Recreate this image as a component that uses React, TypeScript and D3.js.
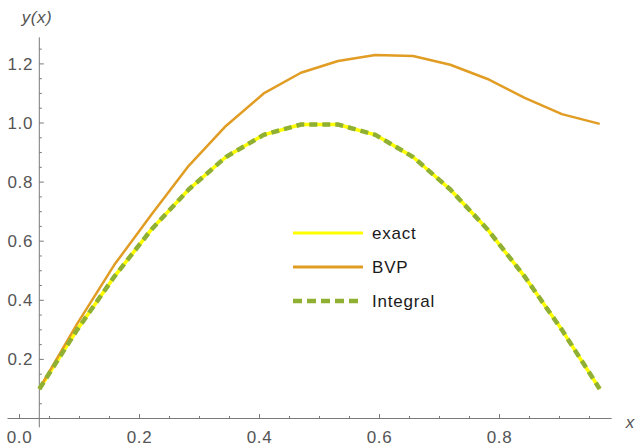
import * as d3 from "d3";

// sample points (x) shared by all three curves
const xs = [
  0.033, 0.096, 0.158, 0.22, 0.282, 0.344, 0.407, 0.469, 0.531, 0.593, 0.656,
  0.718, 0.78, 0.842, 0.904, 0.967,
];
const exactY = [
  0.1, 0.3, 0.48, 0.64, 0.775, 0.885, 0.96, 0.995, 0.995, 0.96, 0.885, 0.775,
  0.64, 0.48, 0.3, 0.1,
];
const bvpY = [
  0.1, 0.32, 0.52, 0.69, 0.855, 0.99, 1.1, 1.17, 1.21, 1.23, 1.227, 1.197,
  1.149, 1.085, 1.03, 0.997,
];
const integralY = [
  0.1, 0.3, 0.48, 0.64, 0.775, 0.885, 0.96, 0.995, 0.995, 0.96, 0.885, 0.775,
  0.64, 0.48, 0.3, 0.1,
];

const seriesNames = ["exact", "BVP", "Integral"];
const xTicks = [0, 0.2, 0.4, 0.6, 0.8];
const xTickLabels = ["0.0", "0.2", "0.4", "0.6", "0.8"];
const yTicks = [0.2, 0.4, 0.6, 0.8, 1.0, 1.2];
const yTickLabels = ["0.2", "0.4", "0.6", "0.8", "1.0", "1.2"];

const W = 637;
const H = 448;
const AXIS = "#7a7a7a";
const LABEL = "#555555";
const FONT = "'Liberation Sans', Arial, sans-serif";

export default function App() {
  const x = d3.scaleLinear().domain([0, 1]).range([19.5, 619.5]);
  const y = d3.scaleLinear().domain([0, 1]).range([418.5, 123]);

  const line = d3
    .line<number>()
    .x((_, i) => x(xs[i]))
    .y((d) => y(d));

  // minor ticks every 0.05
  const xMinor = d3.range(0, 0.97, 0.05).filter((v) => Math.abs((v * 20) % 4) > 0.01);
  const yMinor = d3.range(0.05, 1.29, 0.05).filter((v) => Math.round(v * 20) % 4 !== 0);

  const yAxisX = x(xs[0]);
  const xAxisY = y(0);

  const legend = [
    { name: seriesNames[0], color: "#ffff00", width: 3, dash: undefined },
    { name: seriesNames[1], color: "#e19c24", width: 3, dash: undefined },
    { name: seriesNames[2], color: "#8fb032", width: 4.5, dash: "9 5" },
  ];

  return (
    <svg
      width={W}
      height={H}
      style={{ position: "absolute", left: 0, top: 0, background: "#fff" }}
      fontFamily={FONT}
    >
      {/* axes */}
      <line x1={x(-0.02)} x2={x(0.987)} y1={xAxisY} y2={xAxisY} stroke={AXIS} strokeWidth={1} />
      <line x1={yAxisX} x2={yAxisX} y1={y(1.29)} y2={y(-0.03)} stroke={AXIS} strokeWidth={1} />

      {xTicks.map((t, i) => (
        <g key={"xt" + i}>
          <line x1={x(t)} x2={x(t)} y1={xAxisY} y2={xAxisY - 4.5} stroke={AXIS} />
          <text
            x={x(t)}
            y={443}
            textAnchor="middle"
            fontSize={17}
            fill={LABEL}
            letterSpacing={0.6}
          >
            {xTickLabels[i]}
          </text>
        </g>
      ))}
      {xMinor.map((t, i) => (
        <line key={"xm" + i} x1={x(t)} x2={x(t)} y1={xAxisY} y2={xAxisY - 2.5} stroke={AXIS} />
      ))}

      {yTicks.map((t, i) => (
        <g key={"yt" + i}>
          <line x1={yAxisX} x2={yAxisX + 4.5} y1={y(t)} y2={y(t)} stroke={AXIS} />
          <text
            x={33}
            y={y(t) + 6}
            textAnchor="end"
            fontSize={17}
            fill={LABEL}
            letterSpacing={0.6}
          >
            {yTickLabels[i]}
          </text>
        </g>
      ))}
      {yMinor.map((t, i) => (
        <line key={"ym" + i} x1={yAxisX} x2={yAxisX + 2.5} y1={y(t)} y2={y(t)} stroke={AXIS} />
      ))}

      <text x={37} y={23} textAnchor="middle" fontSize={17} fill={LABEL} fontStyle="italic" letterSpacing={0.6}>
        y(x)
      </text>
      <text x={630} y={428} textAnchor="middle" fontSize={17} fill={LABEL} fontStyle="italic">
        x
      </text>

      {/* curves */}
      <path d={line(exactY) ?? ""} fill="none" stroke="#ffff00" strokeWidth={3.5} strokeLinejoin="round" />
      <path d={line(bvpY) ?? ""} fill="none" stroke="#e19c24" strokeWidth={2.5} strokeLinejoin="round" />
      <path
        d={line(integralY) ?? ""}
        fill="none"
        stroke="#8fb032"
        strokeWidth={4.5}
        strokeDasharray="8 5"
      />

      {/* legend */}
      {legend.map((s, i) => {
        const ly = 233 + i * 34;
        return (
          <g key={s.name}>
            <line
              x1={293}
              x2={363}
              y1={ly}
              y2={ly}
              stroke={s.color}
              strokeWidth={s.width}
              strokeDasharray={s.dash}
            />
            <text x={372} y={ly + 6} fontSize={17} fill="#1a1a1a" letterSpacing={0.8}>
              {s.name}
            </text>
          </g>
        );
      })}
    </svg>
  );
}
